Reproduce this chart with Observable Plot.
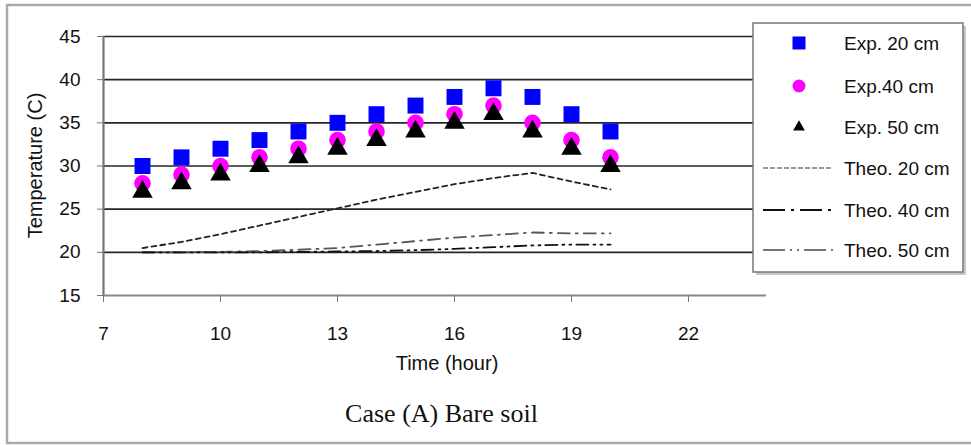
<!DOCTYPE html>
<html>
<head>
<meta charset="utf-8">
<script src="https://cdn.jsdelivr.net/npm/d3@7"></script>
<script src="https://cdn.jsdelivr.net/npm/@observablehq/plot@0.6"></script>
<style>
  html, body { margin: 0; padding: 0; background: #fff; }
  #chart svg { display: block; }
</style>
</head>
<body>
<div id="chart"></div>
<script>
// ---- data ----
const hours  = [8, 9, 10, 11, 12, 13, 14, 15, 16, 17, 18, 19, 20];
const exp20  = [30, 31, 32, 33, 34, 35, 36, 37, 38, 39, 38, 36, 34];
const exp40  = [28, 29, 30, 31, 32, 33, 34, 35, 36, 37, 35, 33, 31];
const exp50  = [27, 28, 29, 30, 31, 32, 33, 34, 35, 36, 34, 32, 30];
const theo20 = [20.5, 21.2, 22.1, 23.1, 24.1, 25.1, 26.1, 27.0, 27.9, 28.6, 29.2, 28.2, 27.3];
const theo40 = [20.0, 20.0, 20.05, 20.15, 20.3, 20.5, 20.9, 21.3, 21.7, 22.0, 22.3, 22.2, 22.2];
const theo50 = [20.0, 20.0, 20.0, 20.0, 20.05, 20.1, 20.15, 20.25, 20.4, 20.6, 20.8, 20.9, 20.9];
const xTicks = [7, 10, 13, 16, 19, 22];
const yTicks = [15, 20, 25, 30, 35, 40, 45];
const seriesNames = ["Exp. 20 cm", "Exp.40 cm", "Exp. 50 cm", "Theo. 20 cm", "Theo. 40 cm", "Theo. 50 cm"];
const xTitle = "Time (hour)";
const yTitle = "Temperature (C)";
const caption = "Case (A) Bare soil";

const rows = (ys) => hours.map((h, i) => ({h, v: ys[i]}));

const font = "'Liberation Sans', Arial, sans-serif";

const plot = Plot.plot({
  width: 971,
  height: 445,
  marginLeft: 103,
  marginRight: 205,
  marginTop: 36,
  marginBottom: 150,
  style: {fontFamily: font, fontSize: "19px", color: "#111", background: "transparent"},
  x: {domain: [7, 24], ticks: xTicks, label: null},
  y: {domain: [15, 45], ticks: yTicks, label: null},
  marks: [
    Plot.ruleY(yTicks.filter(d => d > 15), {stroke: "#262626", strokeWidth: 1.6}),
    Plot.ruleY([15], {stroke: "#888", strokeWidth: 2.2}),
    Plot.ruleX([7], {stroke: "#777", strokeWidth: 2.2}),
    Plot.axisY({ticks: yTicks, tickSize: 6, tickPadding: 17, stroke: "#777", fill: "#111", label: null, tickFormat: d => String(d)}),
    Plot.axisX({ticks: xTicks, tickSize: 7, tickPadding: 24, stroke: "#777", fill: "#111", label: null, tickFormat: d => String(d)}),
    Plot.line(rows(theo20), {x: "h", y: "v", stroke: "#222", strokeWidth: 1.8, strokeDasharray: "5,4"}),
    Plot.line(rows(theo40), {x: "h", y: "v", stroke: "#555", strokeWidth: 1.8, strokeDasharray: "12,6,2,6"}),
    Plot.line(rows(theo50), {x: "h", y: "v", stroke: "#111", strokeWidth: 1.8, strokeDasharray: "12,5,2,5,2,5"}),
    Plot.dot(rows(exp20), {x: "h", y: "v", symbol: "square", r: 9, fill: "#0000ff", stroke: "none"}),
    Plot.dot(rows(exp40), {x: "h", y: "v", symbol: "circle", r: 8.3, fill: "#ff00ff", stroke: "none"}),
    Plot.dot(rows(exp50), {x: "h", y: "v", symbol: "triangle", r: 7.6, fill: "#000", stroke: "none"})
  ]
});

document.getElementById("chart").appendChild(plot);

const svg = d3.select(plot);

// outer frame
svg.insert("rect", ":first-child")
  .attr("x", 7).attr("y", 5).attr("width", 990).attr("height", 438)
  .attr("fill", "#fff").attr("stroke", "#aaa").attr("stroke-width", 2.5);

// axis titles
svg.append("text")
  .attr("transform", "translate(35,165.5) rotate(-90)")
  .attr("text-anchor", "middle").attr("dominant-baseline", "central")
  .attr("font-family", font).attr("font-size", 20).attr("fill", "#111")
  .text(yTitle);
svg.append("text")
  .attr("x", 447).attr("y", 370)
  .attr("text-anchor", "middle")
  .attr("font-family", font).attr("font-size", 20).attr("fill", "#111")
  .text(xTitle);
svg.append("text")
  .attr("x", 441.5).attr("y", 422)
  .attr("text-anchor", "middle")
  .attr("font-family", "'Liberation Serif', 'Times New Roman', serif").attr("font-size", 26).attr("fill", "#111")
  .text(caption);

// legend
const lg = svg.append("g");
lg.append("rect").attr("x", 756).attr("y", 26).attr("width", 210).attr("height", 249).attr("fill", "#c8c8c8");
lg.append("rect").attr("x", 753).attr("y", 23).attr("width", 210).attr("height", 249)
  .attr("fill", "#fff").attr("stroke", "#777").attr("stroke-width", 1.5);
const rowY = [43, 86, 127, 168, 210, 250];
const sx = 799;
lg.append("rect").attr("x", sx - 6.5).attr("y", rowY[0] - 6.5).attr("width", 13).attr("height", 13).attr("fill", "#0000ff");
lg.append("circle").attr("cx", sx).attr("cy", rowY[1]).attr("r", 6.5).attr("fill", "#ff00ff");
lg.append("path").attr("d", d3.symbol(d3.symbolTriangle, 60)()).attr("transform", `translate(${sx},${rowY[2]})`).attr("fill", "#000");
const lineStyles = [
  {stroke: "#999", dash: "5,2"},
  {stroke: "#111", dash: "22,6,3,6"},
  {stroke: "#777", dash: "22,5,2,5,2,5"}
];
lineStyles.forEach((s, i) => {
  lg.append("line").attr("x1", 763).attr("x2", 833).attr("y1", rowY[3 + i]).attr("y2", rowY[3 + i])
    .attr("stroke", s.stroke).attr("stroke-width", 2).attr("stroke-dasharray", s.dash);
});
seriesNames.forEach((n, i) => {
  lg.append("text").attr("x", 844).attr("y", rowY[i]).attr("dominant-baseline", "central")
    .attr("text-anchor", "start")
    .attr("font-family", font).attr("font-size", 19).attr("fill", "#111").text(n);
});
</script>
</body>
</html>
